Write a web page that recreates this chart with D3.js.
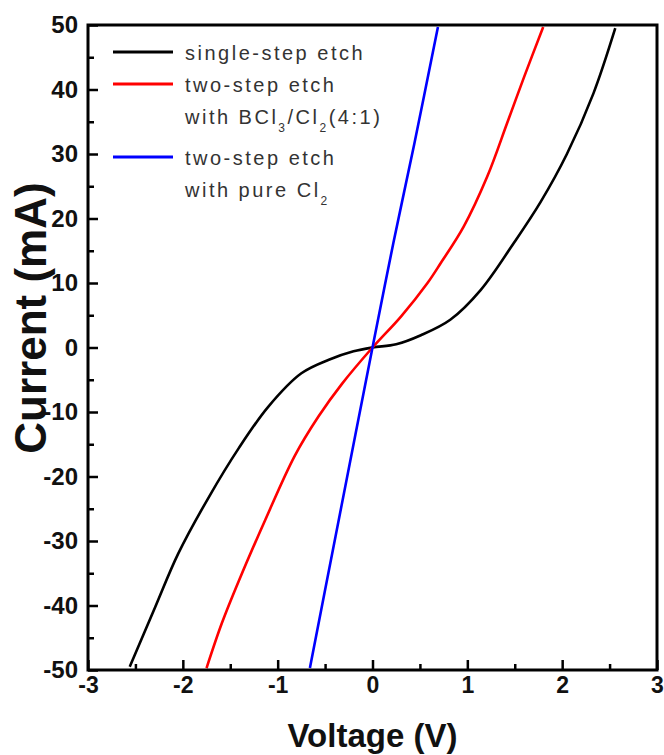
<!DOCTYPE html>
<html>
<head>
<meta charset="utf-8">
<script src="https://cdn.jsdelivr.net/npm/d3@7"></script>
<style>
  body { margin: 0; background: #fff; }
  text { font-family: Arial, "Liberation Sans", sans-serif; }
</style>
</head>
<body>
<div id="chart"></div>
<script>
  var w = 664, h = 755;
  var m = { top: 25, right: 7, bottom: 85, left: 88 };

  // I-V data (V in volts, I in mA)
  var singleV = [-2.56, -2.29, -2.05, -1.73, -1.41, -1.10, -0.75, -0.46, -0.20, 0, 0.25, 0.51, 0.82, 1.14, 1.49, 1.77, 2.05, 2.33, 2.56];
  var singleI = [-49.5, -40.2, -32.0, -23.3, -15.6, -9.2, -4.0, -1.9, -0.6, 0, 0.5, 1.9, 4.3, 8.9, 16.2, 22.5, 30.0, 39.4, 49.5];

  var bclV = [-1.75, -1.59, -1.41, -1.13, -0.82, -0.57, -0.32, 0, 0.30, 0.58, 0.72, 0.96, 1.21, 1.42, 1.60, 1.80];
  var bclI = [-49.7, -42.8, -36.2, -26.7, -16.8, -10.7, -5.6, 0, 4.8, 10.0, 13.1, 18.7, 26.5, 34.8, 42.0, 49.7];

  var clV = [-0.66, -0.39, -0.18, 0, 0.22, 0.44, 0.69];
  var clI = [-49.7, -29.3, -13.5, 0, 16.2, 31.5, 49.7];

  var xTicks = [-3, -2, -1, 0, 1, 2, 3];
  var xMinor = [-2.5, -1.5, -0.5, 0.5, 1.5, 2.5];
  var yTicks = [-50, -40, -30, -20, -10, 0, 10, 20, 30, 40, 50];
  var yMinor = [-45, -35, -25, -15, -5, 5, 15, 25, 35, 45];

  var series = [
    { name: ["single-step etch"], color: "#000", v: singleV, i: singleI },
    { name: ["two-step etch", "with BCl|3|/Cl|2|(4:1)"], color: "#f00", v: bclV, i: bclI },
    { name: ["two-step etch", "with pure Cl|2|"], color: "#00f", v: clV, i: clI }
  ];

  var svg = d3.select("#chart").append("svg")
    .attr("width", w).attr("height", h);

  var x = d3.scaleLinear().domain([-3, 3]).range([m.left, w - m.right]);
  var y = d3.scaleLinear().domain([-50, 50]).range([h - m.bottom, m.top]);

  svg.append("clipPath").attr("id", "clip").append("rect")
    .attr("x", m.left).attr("y", m.top)
    .attr("width", w - m.left - m.right).attr("height", h - m.top - m.bottom);

  var line = d3.line().curve(d3.curveCatmullRom.alpha(0.5))
    .x(function(d) { return x(d[0]); })
    .y(function(d) { return y(d[1]); });

  svg.append("g").attr("clip-path", "url(#clip)")
    .selectAll("path").data(series).enter().append("path")
    .attr("fill", "none")
    .attr("stroke", function(d) { return d.color; })
    .attr("stroke-width", 2.6)
    .attr("d", function(d) { return line(d.v.map(function(v, k) { return [v, d.i[k]]; })); });

  // plain hyphen for negatives, like the original
  var fmt = function(d) { return String(d); };

  // axes, ticks pointing inward
  var gx = svg.append("g").attr("transform", "translate(0," + (h - m.bottom) + ")")
    .call(d3.axisBottom(x).tickValues(xTicks).tickSizeInner(-10).tickSizeOuter(0).tickPadding(7).tickFormat(fmt));
  var gxm = svg.append("g").attr("transform", "translate(0," + (h - m.bottom) + ")")
    .call(d3.axisBottom(x).tickValues(xMinor).tickSizeInner(-6).tickSizeOuter(0).tickFormat(""));
  var gy = svg.append("g").attr("transform", "translate(" + m.left + ",0)")
    .call(d3.axisLeft(y).tickValues(yTicks).tickSizeInner(-10).tickSizeOuter(0).tickPadding(10).tickFormat(fmt));
  var gym = svg.append("g").attr("transform", "translate(" + m.left + ",0)")
    .call(d3.axisLeft(y).tickValues(yMinor).tickSizeInner(-6).tickSizeOuter(0).tickFormat(""));

  [gx, gxm, gy, gym].forEach(function(g) {
    g.select(".domain").remove();
    g.selectAll(".tick line").attr("stroke", "#000").attr("stroke-width", 2.5);
    g.selectAll(".tick text").attr("fill", "#111")
      .style("font-size", "23px").style("font-weight", "bold");
  });
  gy.selectAll(".tick text").style("font-size", "24px");

  svg.append("rect")
    .attr("x", m.left).attr("y", m.top)
    .attr("width", w - m.left - m.right).attr("height", h - m.top - m.bottom)
    .attr("fill", "none").attr("stroke", "#000").attr("stroke-width", 3);

  svg.append("text")
    .attr("x", x(0)).attr("y", 747)
    .attr("text-anchor", "middle")
    .style("font-size", "33px").style("font-weight", "bold").attr("fill", "#111")
    .text("Voltage (V)");

  svg.append("text")
    .attr("transform", "translate(46,318) rotate(-90)")
    .attr("text-anchor", "middle")
    .style("font-size", "44px").style("font-weight", "bold").attr("fill", "#111")
    .text("Current (mA)");

  // legend
  var rowY = [52, 84, 157];
  var leg = svg.append("g");
  series.forEach(function(s, k) {
    leg.append("line")
      .attr("x1", 113).attr("x2", 173)
      .attr("y1", rowY[k]).attr("y2", rowY[k])
      .attr("stroke", s.color).attr("stroke-width", 3);
    s.name.forEach(function(txt, j) {
      var t = leg.append("text")
        .attr("x", 185).attr("y", rowY[k] + 8 + j * 32)
        .attr("fill", "#333")
        .style("font-size", "20px").style("letter-spacing", "2.5px");
      txt.split("|").forEach(function(part, p) {
        var ts = t.append("tspan").text(part);
        if (p % 2 === 1) {
          ts.style("font-size", "12px").attr("dy", 8);
        } else if (p > 0) {
          ts.attr("dy", -8);
        }
      });
    });
  });
</script>
</body>
</html>
